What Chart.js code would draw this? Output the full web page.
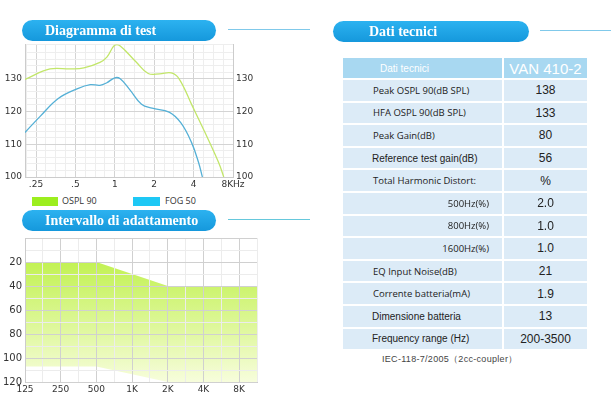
<!DOCTYPE html>
<html lang="it">
<head>
<meta charset="UTF-8">
<title>VAN 410-2</title>
<script src="https://cdn.jsdelivr.net/npm/chart.js"></script>
<style>
    body {
        margin: 0;
        width: 611px;
        height: 399px;
        background: #fff;
        position: relative;
        overflow: hidden;
        font-family: "DejaVu Sans", sans-serif;
    }
    .pill {
        position: absolute;
        height: 21px;
        border-radius: 11px;
        background: linear-gradient(#2cb2f0, #1598dc);
        color: #fff;
        font-family: "Liberation Serif", "DejaVu Serif", serif;
        font-weight: bold;
        font-size: 14px;
        line-height: 21px;
        box-sizing: border-box;
        white-space: nowrap;
    }
    .rule {
        position: absolute;
        height: 1px;
        background: #80c9ea;
    }
    .box { position: absolute; }
    .swatch { position: absolute; height: 9px; }
    .leg {
        position: absolute;
        font-family: "Open Sans", sans-serif;
        font-size: 9px;
        color: #333;
        line-height: 10px;
    }
    table {
        position: absolute;
        left: 343px;
        top: 58px;
        width: 244px;
        border-collapse: collapse;
        table-layout: fixed;
    }
    td {
        box-sizing: border-box;
        padding: 0;
        height: 22.6px;
        border-bottom: 2px solid #fff;
        background: #dcebf7;
        color: #222;
        white-space: nowrap;
        overflow: hidden;
    }
    td.k { border-right: 2px solid #fff; font-family: "Open Sans", sans-serif; font-size: 9.5px; padding-left: 30px; }
    td.a { font-family: "Liberation Sans", Arial, sans-serif; font-size: 10px; padding-left: 29px; }
    td.r { text-align: right; padding-right: 13px; padding-left: 0; }
    td.v { text-align: center; font-family: "Liberation Sans", Arial, sans-serif; font-size: 12px; }
    tr.h td { background: #a8d8f1; color: #fff; height: 21px; }
    tr.h td.k { font-family: "Liberation Sans", Arial, sans-serif; font-size: 10px; padding-left: 37px; }
    tr.h td.v { font-size: 15px; }
    .note {
        position: absolute;
        left: 382px;
        top: 353px;
        font-family: "Liberation Sans", Arial, sans-serif;
        font-size: 9px;
        letter-spacing: 0.3px;
        color: #444;
        white-space: nowrap;
    }
</style>
</head>
<body>
    <div class="box" style="left:0; top:36px; width:262px; height:158px;">
        <canvas id="testChart" width="262" height="158"></canvas>
    </div>
    <div class="pill" style="left:22px; top:20px; width:194px; padding-left:23px;">Diagramma di test</div>
    <div class="rule" style="left:228px; top:29px; width:82px;"></div>

    <div class="swatch" style="left:32px; top:197px; width:26px; background:#9cee1e;"></div>
    <div class="leg" style="left:62px; top:196px;">OSPL 90</div>
    <div class="swatch" style="left:133px; top:197px; width:27px; background:#1ec8f5;"></div>
    <div class="leg" style="left:165px; top:196px;">FOG 50</div>

    <div class="box" style="left:0; top:229px; width:270px; height:170px;">
        <canvas id="fitChart" width="270" height="170"></canvas>
    </div>
    <div class="pill" style="left:22px; top:210px; width:194px; padding-left:23px;">Intervallo di adattamento</div>
    <div class="rule" style="left:228px; top:219px; width:82px; background:#66c8dc;"></div>

    <div class="pill" style="left:333px; top:21px; width:196px; padding-left:36px;">Dati tecnici</div>
    <div class="rule" style="left:540px; top:30px; width:71px;"></div>

    <table>
        <colgroup><col style="width:160px"><col style="width:84px"></colgroup>
        <tr class="h"><td class="k">Dati tecnici</td><td class="v">VAN 410-2</td></tr>
        <tr><td class="k">Peak OSPL 90(dB SPL)</td><td class="v">138</td></tr>
        <tr><td class="k">HFA OSPL 90(dB SPL)</td><td class="v">133</td></tr>
        <tr><td class="k">Peak Gain(dB)</td><td class="v">80</td></tr>
        <tr><td class="k a">Reference test gain(dB)</td><td class="v">56</td></tr>
        <tr><td class="k">Total Harmonic Distort:</td><td class="v">%</td></tr>
        <tr><td class="k r">500Hz(%)</td><td class="v">2.0</td></tr>
        <tr><td class="k r">800Hz(%)</td><td class="v">1.0</td></tr>
        <tr><td class="k r">1600Hz(%)</td><td class="v">1.0</td></tr>
        <tr><td class="k">EQ Input Noise(dB)</td><td class="v">21</td></tr>
        <tr><td class="k">Corrente batteria(mA)</td><td class="v">1.9</td></tr>
        <tr><td class="k a">Dimensione batteria</td><td class="v">13</td></tr>
        <tr><td class="k a">Frequency range (Hz)</td><td class="v">200-3500</td></tr>
    </table>
    <div class="note">IEC-118-7/2005（2cc-coupler）</div>

<script>
// test curves, frequency in kHz, level in dB SPL
const osplFreq = [0.206, 0.32, 0.46, 0.58, 0.77, 0.87, 1.0, 1.1, 1.45, 1.8, 2.2, 2.7, 3.1, 3.9, 4.9, 6.2, 6.8];
const osplVal  = [129.8, 133, 133, 133.3, 135, 136.6, 140.3, 140, 135.2, 131.6, 131.5, 131.8, 130, 121.8, 113.5, 104.5, 100];
const fogFreq  = [0.206, 0.27, 0.37, 0.52, 0.65, 0.77, 0.87, 1.0, 1.1, 1.3, 1.6, 1.93, 2.6, 3.2, 3.86, 4.36, 4.67];
const fogVal   = [113.6, 118.6, 124, 127, 128.2, 128, 128.8, 130.3, 130, 126.7, 122.2, 121, 119.8, 116.5, 110.5, 104.5, 100];
const freqLabels = { 0.25: '.25', 0.5: '.5', 1: '1', 2: '2', 4: '4', 8: '8KHz' };

// fitting range (dB HL)
const fitCats  = ['125', '250', '500', '1K', '2K', '4K', '8K'];
const fitUpper = [20, 20, 20, 30, 40, 40, 40];
const fitLower = [107, 107, 107, 113.5, 120, 120, 120];

Chart.defaults.font.family = '"DejaVu Sans", sans-serif';
Chart.defaults.font.size = 9;
Chart.defaults.color = '#333';

function toPoints(xs, ys) {
    return xs.map((x, i) => ({ x: x, y: ys[i] }));
}

const isOctave = v => Number.isInteger(Math.round(Math.log2(v) * 1000) / 1000);

new Chart(document.getElementById('testChart'), {
    type: 'line',
    data: {
        datasets: [
            { label: 'OSPL 90', data: toPoints(osplFreq, osplVal), borderColor: '#c2e66a', borderWidth: 1.3, pointRadius: 0, tension: 0.4 },
            { label: 'FOG 50', data: toPoints(fogFreq, fogVal), borderColor: '#55b0d6', borderWidth: 1.3, pointRadius: 0, tension: 0.4 }
        ]
    },
    options: {
        responsive: false,
        animation: false,
        devicePixelRatio: 1,
        layout: { padding: { top: 0 } },
        plugins: { legend: { display: false }, tooltip: { enabled: false } },
        scales: {
            x: {
                type: 'logarithmic',
                min: 0.206,
                max: 8,
                afterBuildTicks: s => {
                    const t = [];
                    for (let k = -9; k <= 12; k++) t.push({ value: Math.pow(2, k / 4) });
                    s.ticks = t;
                },
                afterFit: s => { s.height = 17; },
                ticks: { autoSkip: false, maxRotation: 0, padding: 2, callback: v => freqLabels[v] || '' },
                grid: { color: c => (c.tick && isOctave(c.tick.value)) ? '#d4d4d4' : '#eeeeee', drawTicks: false },
                border: { color: '#cccccc' }
            },
            y: {
                min: 100,
                max: 140.5,
                afterFit: s => { s.width = 25; },
                ticks: { stepSize: 2, autoSkip: false, padding: 3, callback: v => (v % 10 === 0 && v < 140) ? v : '' },
                grid: { color: c => (c.tick && c.tick.value % 10 === 0) ? '#d4d4d4' : '#eeeeee', drawTicks: false },
                border: { color: '#cccccc' }
            },
            y2: {
                position: 'right',
                min: 100,
                max: 140.5,
                afterFit: s => { s.width = 29; },
                ticks: { stepSize: 2, autoSkip: false, padding: 3, callback: v => (v % 10 === 0 && v < 140) ? v : '' },
                grid: { display: false, drawTicks: false },
                border: { color: '#cccccc' }
            }
        }
    }
});

function withEdge(vals) {
    const pts = vals.map((v, i) => ({ x: i, y: v }));
    pts.push({ x: vals.length - 0.5, y: vals[vals.length - 1] });
    return pts;
}

new Chart(document.getElementById('fitChart'), {
    type: 'line',
    data: {
        datasets: [
            { data: withEdge(fitUpper), borderWidth: 0, pointRadius: 0, fill: false },
            {
                data: withEdge(fitLower), borderWidth: 0, pointRadius: 0, fill: '-1',
                backgroundColor: ctx => {
                    const a = ctx.chart.chartArea;
                    if (!a) return '#d8f590';
                    const g = ctx.chart.ctx.createLinearGradient(0, a.top, 0, a.bottom);
                    g.addColorStop(0, '#bcef44');
                    g.addColorStop(0.2, '#c4f258');
                    g.addColorStop(0.6, '#ddf798');
                    g.addColorStop(1, '#f7fddc');
                    return g;
                }
            }
        ]
    },
    options: {
        responsive: false,
        animation: false,
        devicePixelRatio: 1,
        layout: { padding: { top: 0, right: 13 } },
        plugins: { legend: { display: false }, tooltip: { enabled: false } },
        scales: {
            x: {
                type: 'linear',
                min: 0,
                max: fitCats.length - 0.5,
                afterFit: s => { s.height = 17; },
                ticks: { stepSize: 0.5, autoSkip: false, maxRotation: 0, padding: 2, callback: v => Number.isInteger(v) ? fitCats[v] : '' },
                grid: { z: 1, color: c => (c.tick && Number.isInteger(c.tick.value)) ? '#d0d0d0' : '#ececec', drawTicks: false },
                border: { color: '#cccccc', z: 1 }
            },
            y: {
                reverse: true,
                min: 0,
                max: 120,
                afterFit: s => { s.width = 25; },
                ticks: { stepSize: 10, autoSkip: false, padding: 3, font: { size: 10 }, callback: v => (v % 20 === 0 && v > 0) ? v : '' },
                grid: { z: 1, color: c => (c.tick && c.tick.value % 20 === 0) ? '#d0d0d0' : '#ececec', drawTicks: false },
                border: { color: '#cccccc', z: 1 }
            }
        }
    }
});
</script>
</body>
</html>
